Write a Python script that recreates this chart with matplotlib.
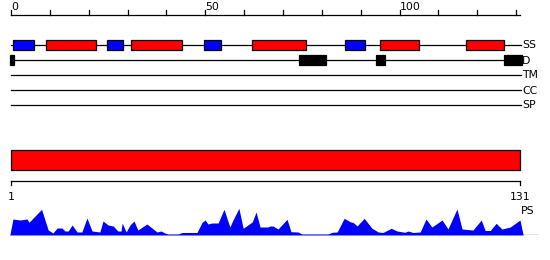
import matplotlib
matplotlib.use('Agg')
import matplotlib.pyplot as plt
from matplotlib.patches import Rectangle

########## data
seq_len = 131
tracks = ['SS', 'D', 'TM', 'CC', 'SP']
top_ticks = list(range(0, 131, 10))
top_labels = [0, 50, 100]

# secondary structure: red = helix, blue = strand (start, end residue)
helix_ranges = [(9, 22), (31, 44), (62, 76), (95, 105), (117, 127)]
strand_ranges = [(0.6, 5.9), (24.8, 28.8), (49.8, 54), (86, 91)]
# disorder segments
disorder_ranges = [(-0.2, 0.8), (74, 81), (94, 96.2), (127, 131.4)]

# PS profile (residue, value)
ps_pos = [0.7, 1.5, 3.3, 5.1, 5.6, 8.8, 10.5, 11.7, 12.8, 14.0, 14.8, 15.6, 16.6,
          17.9, 19.1, 20.4, 21.7, 23.7, 24.5, 25.8, 27.1, 28.3, 29.1, 29.4, 30.4,
          31.4, 32.4, 33.4, 35.7, 38.3, 39.3, 40.3, 41.1, 43.7, 44.7, 48.5, 49.8,
          50.6, 51.3, 52.3, 53.9, 55.4, 56.9, 57.7, 59.2, 60.3, 62.6, 63.6, 64.6,
          66.6, 67.2, 67.9, 69.2, 71.5, 72.5, 74.3, 75.3, 82.0, 83.0, 84.3, 86.1,
          87.6, 88.4, 89.4, 91.2, 93.2, 94.8, 96.0, 98.1, 99.6, 101.6, 102.4, 103.7,
          105.5, 107.0, 108.5, 111.1, 112.6, 114.9, 116.2, 119.0, 121.1, 122.1,
          123.4, 124.9, 126.4, 128.5, 131.0, 131.8]
ps_val = [0, 16, 15, 16, 12.7, 25.7, 5, 2, 7, 7, 4, 4, 10,
          3, 3, 17, 4, 3, 14, 10, 9, 4, 4, 12, 3,
          10, 14, 5, 11, 3, 4, 2, 1, 1, 2.5, 2.5, 12.7,
          15, 11, 12, 12, 25.7, 8, 15, 26.7, 6.7, 13, 23, 8,
          8, 9, 9, 6, 15.7, 3.3, 3, 1, 1, 2.7, 3, 16.7,
          13.3, 12.5, 9, 16.7, 6.7, 3, 2.5, 6.7, 4, 2.7, 4, 2.5,
          3, 16, 8, 15, 6, 26, 6, 5, 15, 4.5,
          4.5, 11.7, 6, 8, 15, 0]
ps_line_end = 135.6


########## layout (pixels of a 550x260 image)
W, H = 550, 260
px_left, px_right = 11, 520


def xlim_for(r0, r1):
    s = (px_right - px_left) / (r1 - r0)
    return (r0 - px_left / s, r0 + (W - px_left) / s)


fig = plt.figure(figsize=(5.5, 2.6), dpi=100)
fs = 7.8
lw = 0.9

##### top panel: features, residue 0..131
ax = fig.add_axes([0, 0, 1, 1])
ax.set_xlim(*xlim_for(0, seq_len))
ax.set_ylim(H, 0)
ax.axis('off')

# ruler
ax.plot([0, seq_len], [14.7, 14.7], color='black', lw=lw)
for t in top_ticks:
    ax.plot([t, t], [14.7, 10], color='black', lw=lw)
for t in top_labels:
    ax.text(t, 10.5, str(t), fontsize=fs, ha='left', va='baseline')

row_y = {'SS': 45, 'D': 60, 'TM': 75, 'CC': 90, 'SP': 105}
for name in tracks:
    y = row_y[name]
    ax.plot([0, seq_len + 0.3], [y, y], color='black', lw=lw, zorder=1)
    ax.text(seq_len + 0.5, y + 0.5, name, fontsize=fs, ha='left', va='center')

box_h = 10.5
for a, b in helix_ranges:
    ax.add_patch(Rectangle((a, row_y['SS'] - box_h / 2), b - a, box_h,
                           facecolor='#ff0000', edgecolor='black', lw=lw, zorder=2))
for a, b in strand_ranges:
    ax.add_patch(Rectangle((a, row_y['SS'] - box_h / 2), b - a, box_h,
                           facecolor='#0000ff', edgecolor='black', lw=lw, zorder=2))
for a, b in disorder_ranges:
    ax.add_patch(Rectangle((a, row_y['D'] - box_h / 2), b - a, box_h,
                           facecolor='black', edgecolor='black', lw=lw, zorder=2))

##### bottom panel: residue 1..131
ax2 = fig.add_axes([0, 0, 1, 1])
ax2.set_xlim(*xlim_for(1, seq_len))
ax2.set_ylim(H, 0)
ax2.axis('off')
ax2.patch.set_alpha(0)

ax2.add_patch(Rectangle((1, 150), seq_len - 1, 20, facecolor='#ff0000',
                        edgecolor='black', lw=lw))
ax2.plot([1, seq_len], [180.7, 180.7], color='black', lw=lw)
for t in [1, seq_len]:
    ax2.plot([t, t], [180.7, 185], color='black', lw=lw)
    ax2.text(t, 200, str(t), fontsize=fs, ha='center', va='baseline')
ax2.text(seq_len + 0.3, 211, 'PS', fontsize=fs, ha='left', va='center')

##### PS profile
ax3 = fig.add_axes([0, (H - 235) / H, 1, 30 / H])
ax3.set_xlim(*xlim_for(1, seq_len))
ax3.set_ylim(0, 30)
ax3.axis('off')
ax3.patch.set_alpha(0)
ax3.fill_between(ps_pos, ps_val, 0, color='#0000ff', lw=0)
ax3.plot([1, ps_line_end], [0, 0], color='#0000ff', lw=lw)

plt.savefig('out.png', dpi=100)
